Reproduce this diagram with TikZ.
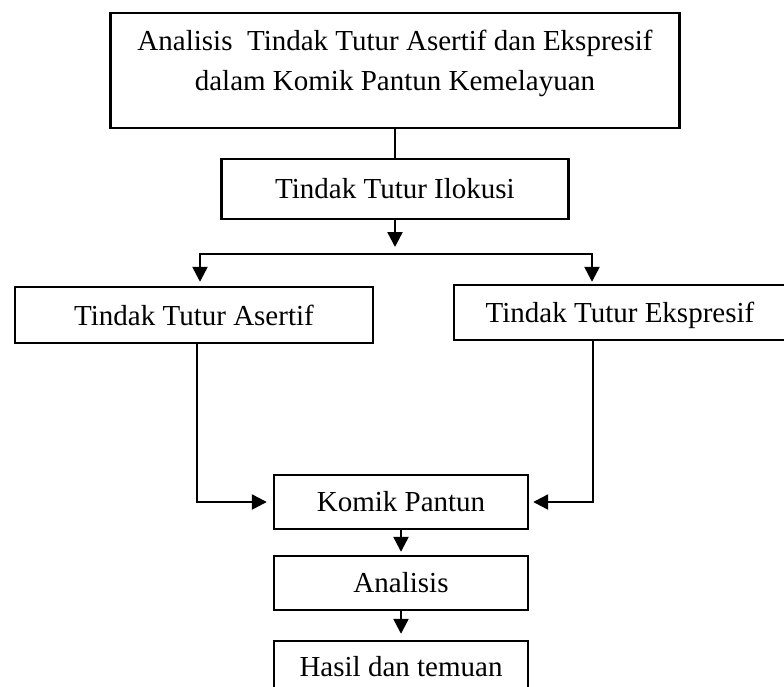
\documentclass[tikz,border=0pt]{standalone}
\usepackage{fontspec}
\setmainfont{Liberation Serif}
\usetikzlibrary{shapes,arrows.meta,positioning}

\begin{document}
\begin{tikzpicture}[x=1pt, y=1pt, node distance=81pt, line width=2.4pt]
        \tikzstyle{block} = [rectangle, draw, text centered, inner sep=0pt, minimum width=254pt, minimum height=54pt, font=\fontsize{29}{34}\selectfont]
        \tikzstyle{line} = [draw, -{Triangle[length=15pt, width=15pt]}]

        \useasboundingbox (0,0) rectangle (784,-687);
        \clip (0,0) rectangle (784,-687);

        \node [block, minimum width=569pt, minimum height=115pt, align=center, font=\fontsize{29}{40}\selectfont] at (395,-70.5) (judul) {Analisis~ Tindak Tutur Asertif dan Ekspresif\\dalam Komik Pantun Kemelayuan\rule[-20.8pt]{0pt}{0pt}};
        \node [block, below of=judul, node distance=118.5pt, minimum width=347pt, minimum height=60pt] (ilokusi) {Tindak Tutur Ilokusi};
        \node [block, minimum width=358pt, minimum height=56pt] at (194,-315) (asertif) {Tindak Tutur Asertif};
        \node [block, minimum width=332pt, minimum height=55pt, text depth=0pt] at (620,-312.5) (ekspresif) {Tindak Tutur Ekspresif};
        \node [block] at (401,-502) (komik) {Komik Pantun};
        \node [block, below of=komik] (analisis) {Analisis};
        \node [block, below of=analisis, node distance=84pt, minimum height=52pt] (hasil) {Hasil dan temuan};

        \draw (judul) -- (ilokusi);
        \coordinate (cabang) at (395,-247);
        \path [line] (ilokusi) -- (cabang);

        % percabangan ke dua jenis tindak tutur
        \coordinate (barkiri) at (200,-254);
        \coordinate (barkanan) at (592,-254);
        \draw [line cap=rect] (barkiri) -- (barkanan);
        \path [line, shorten >=4pt] (barkiri) -- (barkiri |- asertif.north);
        \path [line, shorten >=2pt] (barkanan) -- (barkanan |- ekspresif.north);

        \coordinate (turunkiri) at (197,-400);
        \coordinate (turunkanan) at (593,-400);
        \path [line, shorten >=6pt] (asertif.south -| turunkiri) |- (komik.west);
        \path [line, shorten >=4pt] (ekspresif.south -| turunkanan) |- (komik.east);

        \path [line, shorten >=3pt] (komik) -- (analisis);
        \path [line, shorten >=6pt] (analisis) -- (hasil);
    \end{tikzpicture}
\end{document}
